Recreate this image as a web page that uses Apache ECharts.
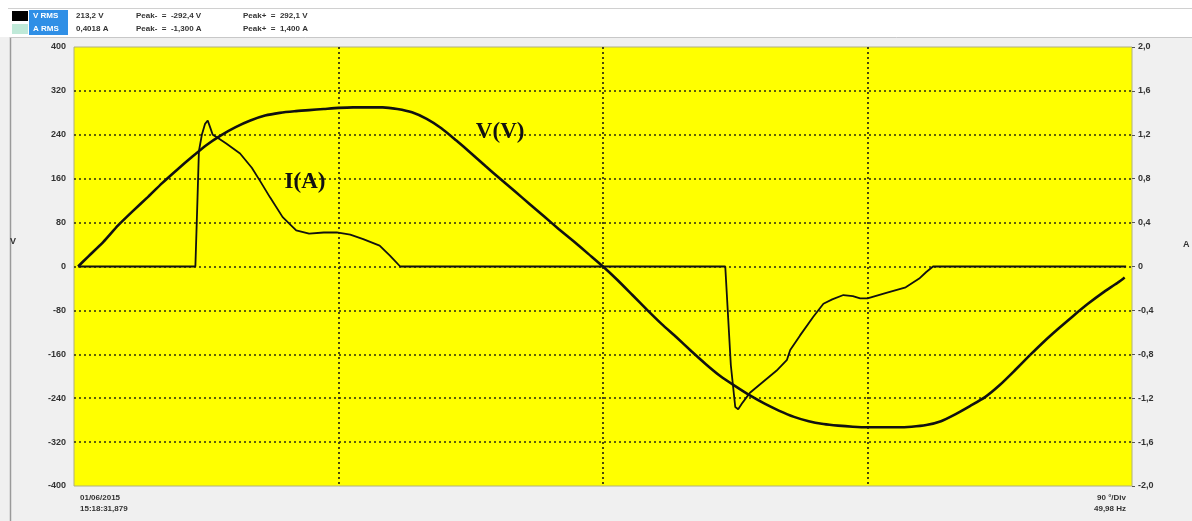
<!DOCTYPE html>
<html>
<head>
<meta charset="utf-8">
<script src="https://cdn.jsdelivr.net/npm/echarts@6/dist/echarts.min.js"></script>
<style>
  html, body { margin: 0; padding: 0; background: #f0f0f0; }
  #main { width: 1192px; height: 521px; }
</style>
</head>
<body>
<div id="main"></div>
<script>
// phase angle (deg) and voltage (V)
const vDeg = [1.4, 5, 10, 15, 20, 25, 30, 35, 40, 45, 50, 55, 60, 65, 70, 75, 80, 85, 90, 95, 100, 105,
  110, 115, 120, 125, 130, 135, 140, 145, 150, 155, 160, 165, 170, 175, 180, 185, 190, 195, 200, 205,
  210, 215, 220, 225, 230, 235, 240, 245, 250, 255, 260, 265, 270, 275, 280, 285, 290, 295, 300, 305,
  310, 315, 320, 325, 330, 335, 340, 345, 350, 355, 357.5]
const vVal = [0, 19, 45, 75, 101, 126, 152, 176, 199, 221, 239, 254, 266, 275, 280, 283, 285, 287, 289, 290, 290, 290,
  287, 281, 269, 252, 230, 207, 183, 160, 137, 114, 91, 68, 46, 23, 0, -25, -52, -79, -105, -129,
  -154, -178, -200, -218, -235, -250, -263, -274, -282, -287, -290, -292, -293, -293, -293, -292, -289, -282, -269, -254,
  -238, -216, -190, -163, -137, -113, -90, -68, -48, -30, -20]

// phase angle (deg) and current (A)
const iDeg = [1.4, 41.3, 42, 42.5, 43.5, 44.6, 45.5, 46.3, 47.2, 49, 51.8, 56.5, 60.5, 63.3, 66.7, 71, 75.6, 80, 85,
  89.4, 94, 98.4, 104, 107.5, 111, 180, 221.6, 223.5, 225, 226, 227.5, 230, 234.5, 239, 242.6, 243.7, 247,
  251.5, 255, 258, 261.8, 265, 267.5, 270, 276.4, 283, 287.6, 290, 292.3, 358]
const iVal = [0, 0, 0.6, 1.05, 1.2, 1.3, 1.33, 1.27, 1.2, 1.17, 1.12, 1.03, 0.9, 0.78, 0.63, 0.45, 0.33, 0.3, 0.31,
  0.31, 0.29, 0.25, 0.19, 0.1, 0, 0, 0, -0.9, -1.28, -1.3, -1.24, -1.15, -1.05, -0.95, -0.85, -0.76, -0.63,
  -0.46, -0.34, -0.3, -0.26, -0.27, -0.29, -0.29, -0.24, -0.19, -0.11, -0.05, 0, 0]

const vTicks = ['-400', '-320', '-240', '-160', '-80', '0', '80', '160', '240', '320', '400']
const iTicks = ['-2,0', '-1,6', '-1,2', '-0,8', '-0,4', '0', '0,4', '0,8', '1,2', '1,6', '2,0']

const hdrRows = [
  ['V RMS', '213,2 V', 'Peak-  =  -292,4 V', 'Peak+  =  292,1 V'],
  ['A RMS', '0,4018 A', 'Peak-  =  -1,300 A', 'Peak+  =  1,400 A']
]

let myChart = echarts.init(document.getElementById('main'))

const gridLine = {
  show: true,
  showMinLine: false,
  showMaxLine: false,
  lineStyle: { color: '#2a2a10', width: 1.7, type: [2, 3] }
}
const tickLbl = { color: '#333', fontSize: 9, fontWeight: 'bold', fontFamily: 'Liberation Sans' }
const small = { fill: '#333', fontSize: 8, fontWeight: 'bold', fontFamily: 'Liberation Sans' }
const bigLbl = { show: true, position: 'inside', color: '#111', fontSize: 23, fontWeight: 'bold', fontFamily: 'Liberation Serif' }

let graphic = [
  // header strip
  { type: 'rect', shape: { x: 0, y: 0, width: 1192, height: 37 }, style: { fill: '#fff' }, silent: true },
  { type: 'line', shape: { x1: 8, y1: 8.5, x2: 1192, y2: 8.5 }, style: { stroke: '#d0d0d0', lineWidth: 1 } },
  { type: 'line', shape: { x1: 10.5, y1: 37, x2: 10.5, y2: 521 }, style: { stroke: '#9a9a9a', lineWidth: 1.5 } },
  { type: 'line', shape: { x1: 10, y1: 37.5, x2: 1192, y2: 37.5 }, style: { stroke: '#c8c8c8', lineWidth: 1 } },
  { type: 'rect', shape: { x: 12, y: 11, width: 16, height: 10 }, style: { fill: '#000' } },
  { type: 'rect', shape: { x: 12, y: 24, width: 16, height: 10 }, style: { fill: '#bfe9d8' } },
  { type: 'rect', shape: { x: 29, y: 10, width: 39, height: 25 }, style: { fill: '#2f8fe6' } }
]
hdrRows.forEach(function (row, k) {
  let y = 16 + k * 13
  graphic.push({ type: 'text', x: 33, y: y, style: Object.assign({ text: row[0], verticalAlign: 'middle' }, small, { fill: '#fff' }) })
  graphic.push({ type: 'text', x: 76, y: y, style: Object.assign({ text: row[1], verticalAlign: 'middle' }, small) })
  graphic.push({ type: 'text', x: 136, y: y, style: Object.assign({ text: row[2], verticalAlign: 'middle' }, small) })
  graphic.push({ type: 'text', x: 243, y: y, style: Object.assign({ text: row[3], verticalAlign: 'middle' }, small) })
})
graphic.push({ type: 'text', x: 80, y: 492, style: Object.assign({ text: '01/06/2015\n15:18:31,879', lineHeight: 11 }, small) })
graphic.push({ type: 'text', right: 66, y: 492, style: Object.assign({ text: '90 °/Div\n49,98 Hz', lineHeight: 11, align: 'right' }, small) })
// unit letters beside the axes, a little above the zero line
graphic.push({ type: 'text', x: 10, y: 237, style: Object.assign({ text: 'V' }, small, { fontSize: 9 }) })
graphic.push({ type: 'text', x: 1183, y: 240, style: Object.assign({ text: 'A' }, small, { fontSize: 9 }) })

let option = {
  animation: false,
  backgroundColor: '#f0f0f0',
  graphic: graphic,
  grid: {
    left: 74,
    right: 60,
    top: 47,
    bottom: 35,
    show: true,
    backgroundColor: '#ffff00',
    borderColor: '#b0b080',
    borderWidth: 1
  },
  xAxis: {
    type: 'value',
    min: 0,
    max: 360,
    interval: 90,
    axisLine: { show: false },
    axisTick: { show: false },
    axisLabel: { show: false },
    splitLine: gridLine
  },
  yAxis: [
    {
      type: 'value',
      min: -400,
      max: 400,
      interval: 80,
      axisLine: { show: false },
      axisTick: { show: false },
      axisLabel: Object.assign({ margin: 8, formatter: function (v, idx) { return vTicks[idx] } }, tickLbl),
      splitLine: gridLine
    },
    {
      type: 'value',
      min: -2,
      max: 2,
      interval: 0.4,
      axisLine: { show: false },
      axisTick: { show: true, length: 3, lineStyle: { color: '#555' } },
      axisLabel: Object.assign({ margin: 6, formatter: function (v, idx) { return iTicks[idx] } }, tickLbl),
      splitLine: { show: false }
    }
  ],
  series: [
    {
      name: 'V(V)',
      type: 'line',
      yAxisIndex: 0,
      showSymbol: false,
      smooth: 0.2,
      lineStyle: { color: '#111', width: 2.6 },
      data: vDeg.map(function (d, k) { return [d, vVal[k]] }),
      markPoint: {
        symbol: 'rect',
        symbolSize: 1,
        itemStyle: { color: 'rgba(0,0,0,0)' },
        label: Object.assign({ formatter: 'V(V)' }, bigLbl),
        data: [{ coord: [145, 245] }]
      }
    },
    {
      name: 'I(A)',
      type: 'line',
      yAxisIndex: 1,
      showSymbol: false,
      lineStyle: { color: '#111', width: 1.8 },
      data: iDeg.map(function (d, k) { return [d, iVal[k]] }),
      markPoint: {
        symbol: 'rect',
        symbolSize: 1,
        itemStyle: { color: 'rgba(0,0,0,0)' },
        label: Object.assign({ formatter: 'I(A)' }, bigLbl),
        data: [{ coord: [78.6, 0.77] }]
      }
    }
  ]
}
myChart.setOption(option)
</script>
</body>
</html>
